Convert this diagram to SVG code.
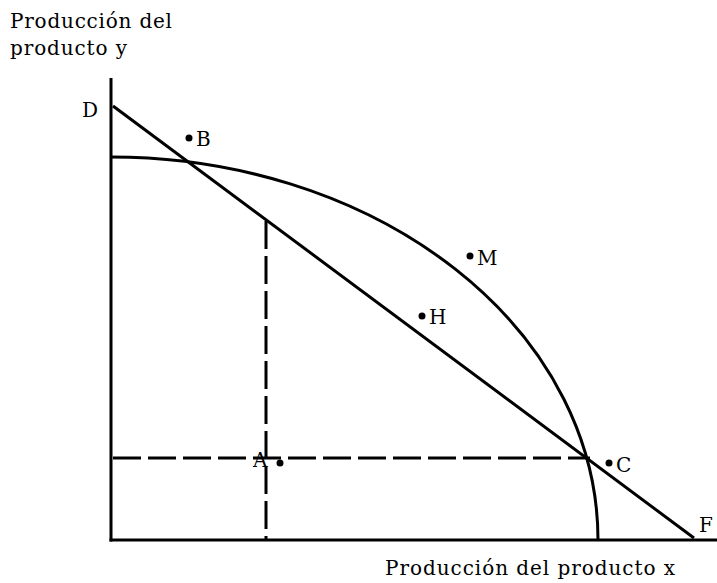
<svg xmlns="http://www.w3.org/2000/svg" width="717" height="583" viewBox="0 0 717 583">
<style>
.t{font-family:"DejaVu Serif","Liberation Serif",serif;font-size:20px;fill:#000}
.s{fill:none;stroke:#000;stroke-width:3}
.d{fill:none;stroke:#000;stroke-width:3;stroke-dasharray:28 7}
.p{fill:#000}
</style>
<rect width="717" height="583" fill="#fff"/>
<g id="axes">
<line class="s" x1="111" y1="78" x2="111" y2="541.5"/>
<line class="s" x1="109.5" y1="540" x2="717" y2="540"/>
</g>
<g id="connectors">
<path class="s" d="M111 157 A487 383 0 0 1 598 540"/>
<line class="s" x1="113" y1="106" x2="694" y2="538"/>
<line class="d" x1="113" y1="458" x2="590" y2="458"/>
<line class="d" x1="266" y1="221" x2="266" y2="540"/>
</g>
<g id="labels">
<text class="t" x="10" y="28" textLength="162" lengthAdjust="spacing">Producción del</text>
<text class="t" x="10" y="55" textLength="117" lengthAdjust="spacing">producto y</text>
<text class="t" x="385" y="575" textLength="290" lengthAdjust="spacing">Producción del producto x</text>
</g>
<g id="D"><text class="t" x="82" y="117">D</text></g>
<g id="B"><circle class="p" cx="189" cy="138" r="3.5"/><text class="t" x="196" y="146">B</text></g>
<g id="M"><circle class="p" cx="470" cy="256" r="3.5"/><text class="t" x="477" y="265">M</text></g>
<g id="H"><circle class="p" cx="422" cy="316" r="3.5"/><text class="t" x="429" y="324">H</text></g>
<g id="A"><text class="t" x="253" y="467">A</text><circle class="p" cx="280" cy="463" r="3.5"/></g>
<g id="C"><circle class="p" cx="609" cy="463" r="3.5"/><text class="t" x="616" y="472">C</text></g>
<g id="F"><text class="t" x="699" y="532">F</text></g>
</svg>
